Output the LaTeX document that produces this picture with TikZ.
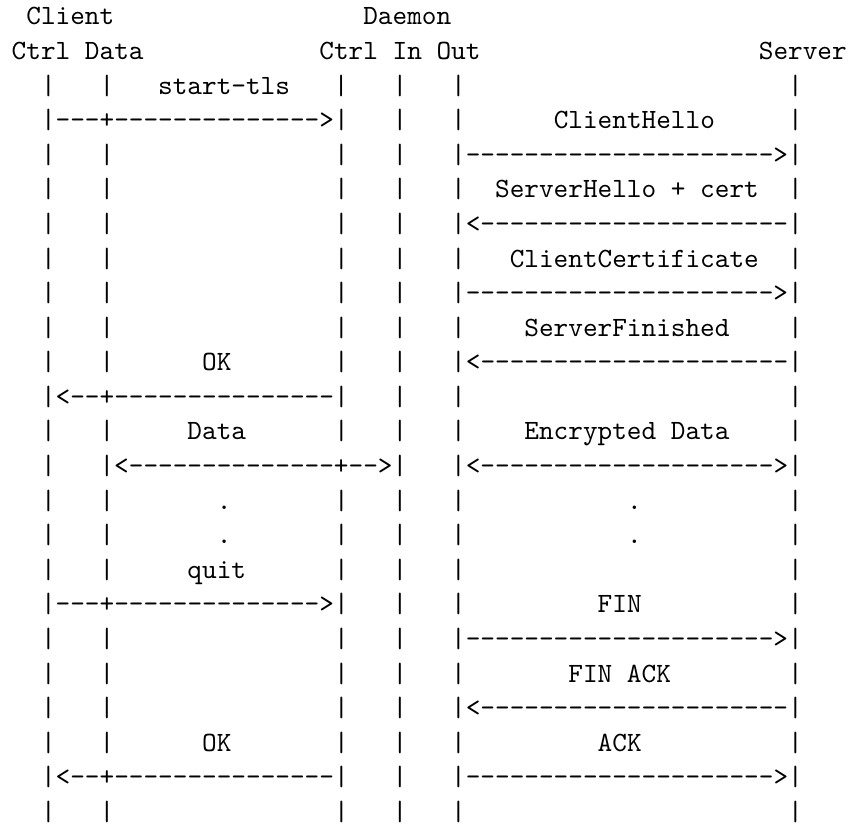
\documentclass[tikz,border=0pt]{standalone}
\newcommand\gp[1]{\hspace*{#1\dimexpr.525em\relax}}
\newcommand\rep[2]{\ifnum#1>0 #2\rep{\numexpr#1-1\relax}{#2}\fi}
\newcommand\lc{\gp{2}|\gp{3}|}
\newcommand\dmn{|\gp{3}|\gp{3}|}
\tikzset{
  asciiline/.style={anchor=base west, inner sep=0pt, outer sep=0pt,
    font=\ttfamily\fontsize{10}{12}\selectfont}
}
\begin{document}
\begin{tikzpicture}[x=0.35836pt,y=-0.35836pt]
\useasboundingbox (0,0) rectangle (849,826);
\def\lx{11.7}
\def\ly#1{25+34.58*#1}
\node[asciiline] (l0)  at (\lx,{\ly{0}})  {\gp{1}Client\gp{17}Daemon};
\node[asciiline] (l1)  at (\lx,{\ly{1}})  {Ctrl Data\gp{12}Ctrl In Out\gp{19}Server};
\node[asciiline] (l2)  at (\lx,{\ly{2}})  {\lc\gp{3}start-tls\gp{3}\dmn\gp{22}|};
\node[asciiline] (l3)  at (\lx,{\ly{3}})  {\gp{2}|---+\rep{14}{-}>|\gp{3}|\gp{3}|\gp{6}ClientHello\gp{5}|};
\node[asciiline] (l4)  at (\lx,{\ly{4}})  {\lc\gp{15}\dmn\rep{21}{-}>|};
\node[asciiline] (l5)  at (\lx,{\ly{5}})  {\lc\gp{15}\dmn\gp{2}ServerHello\gp{1}+\gp{1}cert\gp{2}|};
\node[asciiline] (l6)  at (\lx,{\ly{6}})  {\lc\gp{15}\dmn<\rep{21}{-}|};
\node[asciiline] (l7)  at (\lx,{\ly{7}})  {\lc\gp{15}\dmn\gp{3}ClientCertificate\gp{2}|};
\node[asciiline] (l8)  at (\lx,{\ly{8}})  {\lc\gp{15}\dmn\rep{21}{-}>|};
\node[asciiline] (l9)  at (\lx,{\ly{9}})  {\lc\gp{15}\dmn\gp{4}ServerFinished\gp{4}|};
\node[asciiline] (l10) at (\lx,{\ly{10}}) {\lc\gp{6}OK\gp{7}\dmn<\rep{21}{-}|};
\node[asciiline] (l11) at (\lx,{\ly{11}}) {\gp{2}|<--+\rep{15}{-}|\gp{3}|\gp{3}|\gp{22}|};
\node[asciiline] (l12) at (\lx,{\ly{12}}) {\lc\gp{5}Data\gp{6}\dmn\gp{4}Encrypted\gp{1}Data\gp{4}|};
\node[asciiline] (l13) at (\lx,{\ly{13}}) {\lc<\rep{14}{-}+-->|\gp{3}|<\rep{20}{-}>|};
\node[asciiline] (l14) at (\lx,{\ly{14}}) {\lc\gp{7}.\gp{7}\dmn\gp{11}.\gp{10}|};
\node[asciiline] (l15) at (\lx,{\ly{15}}) {\lc\gp{7}.\gp{7}\dmn\gp{11}.\gp{10}|};
\node[asciiline] (l16) at (\lx,{\ly{16}}) {\lc\gp{5}quit\gp{6}\dmn\gp{22}|};
\node[asciiline] (l17) at (\lx,{\ly{17}}) {\gp{2}|---+\rep{14}{-}>|\gp{3}|\gp{3}|\gp{9}FIN\gp{10}|};
\node[asciiline] (l18) at (\lx,{\ly{18}}) {\lc\gp{15}\dmn\rep{21}{-}>|};
\node[asciiline] (l19) at (\lx,{\ly{19}}) {\lc\gp{15}\dmn\gp{7}FIN\gp{1}ACK\gp{8}|};
\node[asciiline] (l20) at (\lx,{\ly{20}}) {\lc\gp{15}\dmn<\rep{21}{-}|};
\node[asciiline] (l21) at (\lx,{\ly{21}}) {\lc\gp{6}OK\gp{7}\dmn\gp{9}ACK\gp{10}|};
\node[asciiline] (l22) at (\lx,{\ly{22}}) {\gp{2}|<--+\rep{15}{-}|\gp{3}|\gp{3}|\rep{21}{-}>|};
\node[asciiline] (l23) at (\lx,{\ly{23}}) {\lc\gp{15}\dmn\gp{22}|};
\end{tikzpicture}
\end{document}
